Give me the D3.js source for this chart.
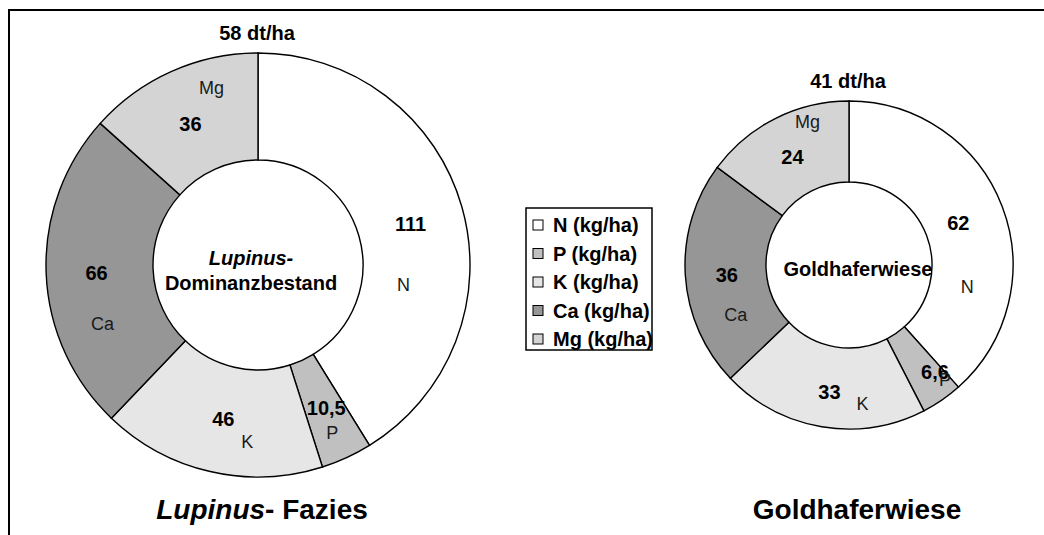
<!DOCTYPE html>
<html>
<head>
<meta charset="utf-8">
<script src="https://cdn.jsdelivr.net/npm/d3@7"></script>
<style>
body { margin: 0; background: #fff; }
text { font-family: Arial, "Liberation Sans", sans-serif; fill: #000; }
</style>
</head>
<body>
<script>
//Width and height
var w = 1044;
var h = 535;

//Nutrients, clockwise from 12 o'clock
var nutrients = ["N", "P", "K", "Ca", "Mg"];
var legendLabels = ["N (kg/ha)", "P (kg/ha)", "K (kg/ha)", "Ca (kg/ha)", "Mg (kg/ha)"];

//Nutrient removal in kg/ha
var lupinusValues = [111, 10.5, 46, 66, 36];
var goldhaferValues = [62, 6.6, 33, 36, 24];

//Yields
var lupinusYield = "58 dt/ha";
var goldhaferYield = "41 dt/ha";

//Grey fills, one per nutrient
var color = d3.scaleOrdinal()
	.domain(nutrients)
	.range(["#ffffff", "#c0c0c0", "#e6e6e6", "#969696", "#d4d4d4"]);

//German decimal comma
var fmt = d3.formatLocale({decimal: ",", thousands: ".", grouping: [3], currency: ["", " €"]}).format("~f");

var pie = d3.pie().sort(null).value(function(d) { return d; });

//Create SVG element
var svg = d3.select("body")
	.append("svg")
	.attr("width", w)
	.attr("height", h);

//Frame (right and bottom edges run off the picture)
svg.append("rect")
	.attr("x", 9)
	.attr("y", 10)
	.attr("width", w + 20)
	.attr("height", h + 20)
	.attr("fill", "none")
	.attr("stroke", "#000")
	.attr("stroke-width", 2);

function drawDonut(cfg) {
	var arc = d3.arc().innerRadius(cfg.r0).outerRadius(cfg.r1);
	var g = svg.append("g").attr("transform", "translate(" + cfg.cx + "," + cfg.cy + ")");
	var slices = pie(cfg.values);

	g.selectAll("path")
		.data(slices)
		.enter()
		.append("path")
		.attr("d", arc)
		.attr("fill", function(d, i) { return color(nutrients[i]); })
		.attr("stroke", "#000")
		.attr("stroke-width", 1.4);

	//value labels at slice centroids
	g.selectAll("text.val")
		.data(slices)
		.enter()
		.append("text")
		.attr("class", "val")
		.attr("x", function(d, i) { return arc.centroid(d)[0] + cfg.valNudge[i][0]; })
		.attr("y", function(d, i) { return arc.centroid(d)[1] + cfg.valNudge[i][1]; })
		.attr("dy", "0.35em")
		.attr("text-anchor", "middle")
		.style("font-size", "20px")
		.style("font-weight", "bold")
		.text(function(d) { return fmt(d.data); });

	//nutrient names
	g.selectAll("text.cat")
		.data(slices)
		.enter()
		.append("text")
		.attr("class", "cat")
		.attr("x", function(d, i) { return arc.centroid(d)[0] + cfg.catNudge[i][0]; })
		.attr("y", function(d, i) { return arc.centroid(d)[1] + cfg.catNudge[i][1]; })
		.attr("dy", "0.35em")
		.attr("text-anchor", "middle")
		.style("font-size", "18px")
		.style("fill", "#1a1a1a")
		.text(function(d, i) { return nutrients[i]; });

	//yield above the ring
	g.append("text")
		.attr("x", -1)
		.attr("y", -cfg.r1 - 20)
		.attr("dy", "0.35em")
		.attr("text-anchor", "middle")
		.style("font-size", "20px")
		.style("font-weight", "bold")
		.text(cfg.yieldText);

	//text in the hole
	cfg.hole.forEach(function(line) {
		g.append("text")
			.attr("x", line.dx)
			.attr("y", line.dy)
			.attr("dy", "0.35em")
			.attr("text-anchor", "middle")
			.style("font-size", "20px")
			.style("font-weight", "bold")
			.style("font-style", line.italic ? "italic" : "normal")
			.text(line.text);
	});

	//title under the ring
	var t = g.append("text")
		.attr("x", cfg.titleDx)
		.attr("y", 254)
		.attr("text-anchor", "middle")
		.style("font-size", "28px")
		.style("font-weight", "bold");
	cfg.title.forEach(function(part) {
		t.append("tspan")
			.style("font-style", part.italic ? "italic" : "normal")
			.text(part.text);
	});
}

drawDonut({
	cx: 258, cy: 265, r0: 105, r1: 212,
	values: lupinusValues,
	yieldText: lupinusYield,
	valNudge: [[0, 2], [2, -1], [1, 0], [-3, 2], [-3, 4]],
	catNudge: [[-7, 63], [8, 24], [25, 22], [3, 53], [18, -33]],
	hole: [{text: "Lupinus-", italic: true, dx: -7, dy: -7}, {text: "Dominanzbestand", dx: -7, dy: 18}],
	title: [{text: "Lupinus", italic: true}, {text: "- Fazies"}],
	titleDx: 4
});

drawDonut({
	cx: 849, cy: 265, r0: 83, r1: 164,
	values: goldhaferValues,
	yieldText: goldhaferYield,
	valNudge: [[-6, 2], [16, 5], [1, 5], [1, 2], [-1, 2]],
	catNudge: [[3, 66], [26, 13], [34, 17], [10, 42], [14, -33]],
	hole: [{text: "Goldhaferwiese", dx: 9, dy: 4}],
	title: [{text: "Goldhaferwiese"}],
	titleDx: 8
});

//Legend
var legend = svg.append("g").attr("transform", "translate(526,208)");

legend.append("rect")
	.attr("width", 126)
	.attr("height", 142)
	.attr("fill", "#fff")
	.attr("stroke", "#000")
	.attr("stroke-width", 1.5);

var rows = legend.selectAll("g.row")
	.data(legendLabels)
	.enter()
	.append("g")
	.attr("class", "row")
	.attr("transform", function(d, i) { return "translate(0," + (17 + i * 28.5) + ")"; });

rows.append("rect")
	.attr("x", 7)
	.attr("y", -5)
	.attr("width", 10)
	.attr("height", 10)
	.attr("fill", function(d, i) { return color(nutrients[i]); })
	.attr("stroke", "#000")
	.attr("stroke-width", 1);

rows.append("text")
	.attr("x", 27)
	.attr("dy", "0.35em")
	.style("font-size", "20px")
	.style("font-weight", "bold")
	.text(function(d) { return d; });
</script>
</body>
</html>
